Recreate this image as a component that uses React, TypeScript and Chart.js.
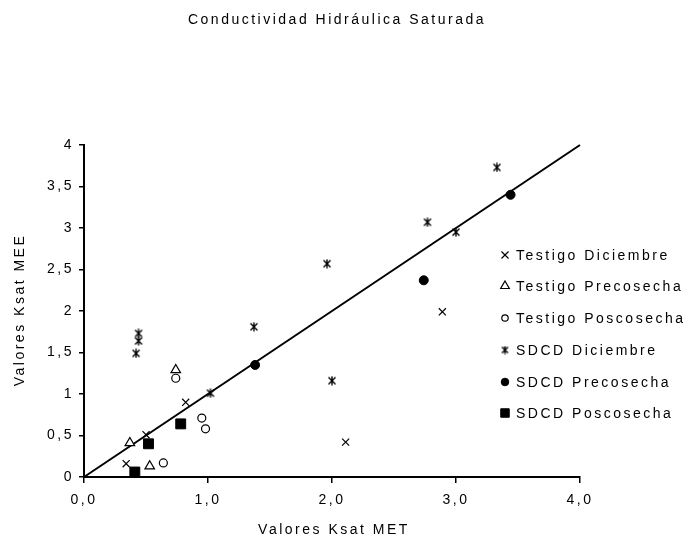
import React, { useEffect, useRef } from 'react';
import { Chart, registerables } from 'chart.js';
import { drawPoint } from 'chart.js/helpers';

Chart.register(...registerables);

const chartTitle = 'Conductividad Hidráulica Saturada';
const xAxisTitle = 'Valores Ksat MET';
const yAxisTitle = 'Valores Ksat MEE';

const seriesLabels = [
  'Testigo Diciembre',
  'Testigo Precosecha',
  'Testigo Poscosecha',
  'SDCD Diciembre',
  'SDCD Precosecha',
  'SDCD Poscosecha',
];

const testigoDicX = [0.34, 0.5, 0.82, 2.11, 2.89];
const testigoDicY = [0.16, 0.51, 0.9, 0.42, 1.99];
const testigoPreX = [0.37, 0.53, 0.74];
const testigoPreY = [0.41, 0.13, 1.29];
const testigoPosX = [0.64, 0.74, 0.95, 0.98];
const testigoPosY = [0.17, 1.19, 0.71, 0.58];
const sdcdDicX = [0.42, 0.44, 0.44, 1.02, 1.37, 1.96, 2.0, 2.77, 3.0, 3.33];
const sdcdDicY = [1.49, 1.64, 1.73, 1.01, 1.81, 2.57, 1.16, 3.07, 2.95, 3.73];
const sdcdPreX = [1.38, 2.74, 3.44];
const sdcdPreY = [1.35, 2.37, 3.4];
const sdcdPosX = [0.41, 0.52, 0.78];
const sdcdPosY = [0.06, 0.4, 0.64];
const lineX = [0, 4];
const lineY = [0, 4];

const FONT = '"Liberation Sans", Arial, sans-serif';
const SPACING = '2.5px';
const FSIZE = 14;

function toPoints(xs: number[], ys: number[]) {
  return xs.map((x, i) => ({ x, y: ys[i] }));
}

function makeAsterisk(size: number): HTMLCanvasElement {
  const c = document.createElement('canvas');
  c.width = size;
  c.height = size;
  const g = c.getContext('2d')!;
  g.strokeStyle = '#000';
  g.lineWidth = 1.4;
  const m = 1.5;
  g.beginPath();
  g.moveTo(m, m);
  g.lineTo(size - m, size - m);
  g.moveTo(size - m, m);
  g.lineTo(m, size - m);
  g.moveTo(size / 2, 0.5);
  g.lineTo(size / 2, size - 0.5);
  g.stroke();
  return c;
}

export default function App() {
  const ref = useRef<HTMLCanvasElement | null>(null);

  useEffect(() => {
    const canvas = ref.current;
    if (!canvas) return;
    const asterisk = makeAsterisk(10);
    const asteriskSmall = makeAsterisk(9);

    const markerStyles = [
      { pointStyle: 'crossRot', radius: 5, borderWidth: 1.2, bg: '#000', lr: 5 },
      { pointStyle: 'triangle', radius: 5.5, borderWidth: 1.2, bg: '#fff', lr: 5 },
      { pointStyle: 'circle', radius: 4, borderWidth: 1.2, bg: '#fff', lr: 3.2 },
      { pointStyle: asterisk as any, radius: 5, borderWidth: 1, bg: '#000', lr: 5 },
      { pointStyle: 'circle', radius: 4.5, borderWidth: 1, bg: '#000', lr: 3.8 },
      { pointStyle: 'rect', radius: 7, borderWidth: 1, bg: '#000', lr: 6 },
    ];

    const seriesData = [
      toPoints(testigoDicX, testigoDicY),
      toPoints(testigoPreX, testigoPreY),
      toPoints(testigoPosX, testigoPosY),
      toPoints(sdcdDicX, sdcdDicY),
      toPoints(sdcdPreX, sdcdPreY),
      toPoints(sdcdPosX, sdcdPosY),
    ];

    const datasets: any[] = seriesLabels.map((label, i) => ({
      type: 'scatter',
      label,
      data: seriesData[i],
      pointStyle: markerStyles[i].pointStyle,
      pointRadius: markerStyles[i].radius,
      pointBorderWidth: markerStyles[i].borderWidth,
      pointBackgroundColor: markerStyles[i].bg,
      pointBorderColor: '#000',
      clip: false,
      order: 1,
    }));

    datasets.push({
      type: 'line',
      label: 'y = x',
      data: toPoints(lineX, lineY),
      borderColor: '#000',
      borderWidth: 2,
      pointRadius: 0,
      fill: false,
      clip: false,
      order: 2,
    });

    const legendRows = [255, 286, 318, 350, 382, 413];

    const textPlugin = {
      id: 'customText',
      beforeDraw(chart: any) {
        (chart.ctx as any).letterSpacing = SPACING;
      },
      afterDraw(chart: any) {
        const ctx = chart.ctx as CanvasRenderingContext2D;
        ctx.save();
        (ctx as any).letterSpacing = SPACING;
        ctx.fillStyle = '#000';
        ctx.textBaseline = 'middle';
        ctx.font = `${FSIZE}px ${FONT}`;
        ctx.textAlign = 'center';
        ctx.fillText(chartTitle, 337, 20);
        ctx.fillText(xAxisTitle, 334, 530);
        ctx.save();
        ctx.translate(20, 310);
        ctx.rotate(-Math.PI / 2);
        ctx.fillText(yAxisTitle, 0, 0);
        ctx.restore();
        ctx.textAlign = 'left';
        seriesLabels.forEach((label, i) => {
          const y = legendRows[i];
          const st = markerStyles[i];
          ctx.save();
          ctx.fillStyle = st.bg;
          ctx.strokeStyle = '#000';
          ctx.lineWidth = st.borderWidth;
          const ps = i === 3 ? (asteriskSmall as any) : st.pointStyle;
          drawPoint(ctx, { pointStyle: ps, radius: st.lr, borderWidth: st.borderWidth, rotation: 0 } as any, 505, y);
          ctx.restore();
          ctx.fillStyle = '#000';
          ctx.fillText(label, 516, y + 1);
        });
        ctx.restore();
      },
    };

    const chart = new Chart(canvas, {
      data: { datasets },
      options: {
        animation: false,
        responsive: false,
        maintainAspectRatio: false,
        layout: { padding: { top: 145, right: 116, left: 0, bottom: 0 } },
        plugins: {
          legend: { display: false },
          title: { display: false },
          tooltip: { enabled: false },
        },
        scales: {
          x: {
            type: 'linear',
            min: 0,
            max: 4,
            afterFit: (s: any) => {
              s.height = 71;
            },
            ticks: {
              stepSize: 1,
              padding: 9,
              color: '#000',
              font: { family: FONT, size: FSIZE },
              callback: (v: any) => Number(v).toFixed(1).replace('.', ','),
              maxRotation: 0,
            },
            grid: { drawOnChartArea: false, drawTicks: true, tickLength: 6, color: '#000', lineWidth: 1.5 },
            border: { display: true, color: '#000', width: 2 },
          },
          y: {
            type: 'linear',
            min: 0,
            max: 4,
            afterFit: (s: any) => {
              s.width = 84;
            },
            ticks: {
              stepSize: 0.5,
              padding: 5,
              color: '#000',
              font: { family: FONT, size: FSIZE },
              callback: (v: any) => String(Math.round(Number(v) * 10) / 10).replace('.', ','),
            },
            grid: { drawOnChartArea: false, drawTicks: true, tickLength: 5, color: '#000', lineWidth: 1.5 },
            border: { display: true, color: '#000', width: 2 },
          },
        },
      } as any,
      plugins: [textPlugin],
    });

    return () => {
      chart.destroy();
    };
  }, []);

  return (
    <div style={{ position: 'fixed', left: 0, top: 0, width: 696, height: 548, background: '#fff' }}>
      <canvas ref={ref} width={696} height={548} style={{ width: 696, height: 548, display: 'block' }} />
    </div>
  );
}
